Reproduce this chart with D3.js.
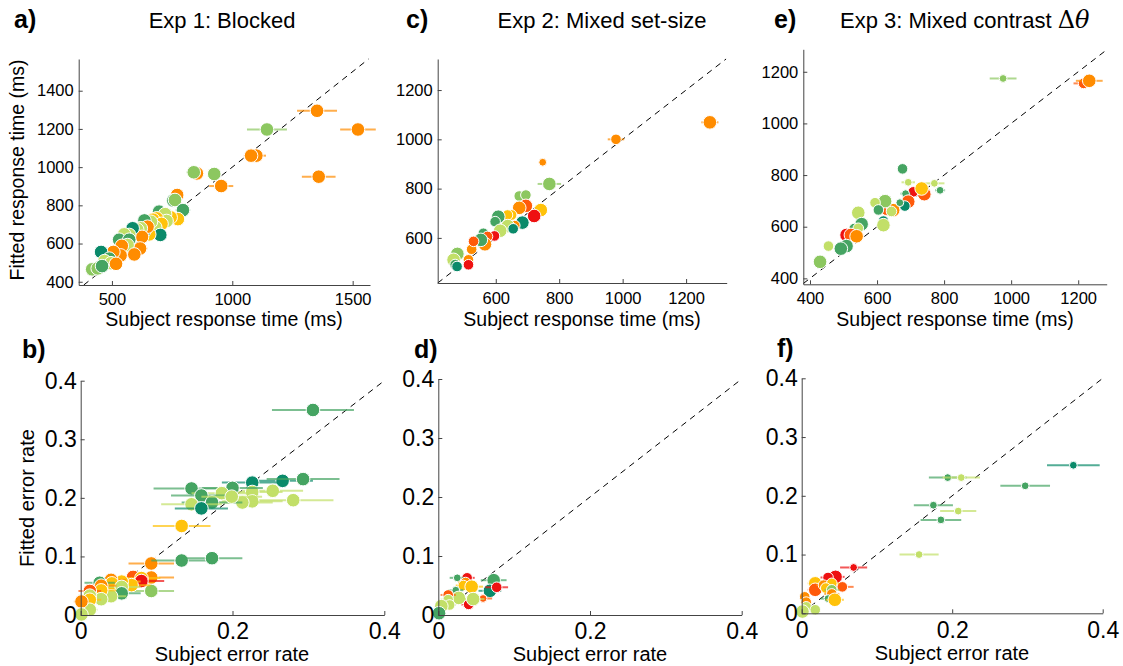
<!DOCTYPE html>
<html>
<head>
<meta charset="utf-8">
<script src="https://cdn.jsdelivr.net/npm/d3@7"></script>
<style>
  body { margin: 0; background: #fff; }
  text { font-family: "Liberation Sans", Arial, sans-serif; fill: #000; }
</style>
</head>
<body>
<div id="fig"></div>
<script>
// each point: [subject, fitted, half error bar, condition (colour), set-size level]
const exp1RT = [
  [1352,1295,83,2,3],[1522,1197,74,2,3],[1359,950,70,2,3],[1144,1197,83,5,3],
  [1100,1060,40,2,3],[1078,1060,30,2,3],[954,901,50,2,3],[853,967,25,2,3],
  [840,973,30,5,3],[925,964,25,5,3],[771,854,20,2,3],[755,825,25,6,3],
  [762,828,20,5,3],[795,775,30,6,3],[696,767,15,6,3],[774,728,25,3,3],
  [744,737,20,3,3],[721,754,15,4,3],[727,718,20,4,3],[686,732,15,3,3],
  [671,725,15,3,3],[706,703,15,3,3],[680,685,15,4,3],[662,714,15,4,3],
  [701,645,15,7,3],[655,648,15,3,3],[635,721,15,6,3],[634,665,15,7,3],
  [648,688,15,2,3],[620,680,15,4,3],[605,673,15,4,3],[625,635,20,2,3],
  [617,574,30,2,3],[586,680,15,7,3],[572,645,15,4,3],[551,648,15,4,3],
  [530,620,15,6,3],[572,620,15,6,3],[565,592,15,4,3],[541,588,15,2,3],
  [593,543,15,2,3],[536,538,15,2,3],[506,556,15,2,3],[455,556,15,7,3],
  [489,521,15,6,3],[469,508,15,4,3],[496,497,15,4,3],[517,494,15,2,3],
  [418,465,15,5,3],[441,470,15,5,3],[459,482,15,6,3]
];
const exp2RT = [
  [1275,1069,27,2,3],[979,1000,26,2,2],[748,907,8,2,1],[769,819,37,5,3],
  [674,770,8,5,2],[695,774,8,5,2],[742,713,20,3,3],[721,689,12,0,3],
  [695,730,12,1,3],[674,722,15,2,3],[650,693,15,3,2],[637,693,10,3,2],
  [684,662,12,7,3],[660,650,10,2,2],[608,686,15,6,3],[598,666,10,6,2],
  [638,648,15,4,3],[614,629,10,4,3],[655,637,10,7,2],[596,608,10,0,2],
  [561,619,10,6,2],[574,606,10,1,2],[566,574,15,2,3],[553,592,12,6,3],
  [524,554,10,2,2],[530,586,10,1,2],[514,511,8,2,2],[514,491,8,0,2],
  [479,535,10,5,3],[467,511,10,4,3],[472,492,10,6,2],[478,484,8,7,2]
];
const exp3RT = [
  [1216,1155,30,1,2],[1233,1165,40,2,3],[976,1174,40,5,1],[676,824,0,6,2],
  [693,772,20,4,1],[771,768,30,4,1],[788,741,15,6,1],[708,735,15,0,2],
  [741,726,15,1,3],[733,748,20,3,3],[685,728,15,6,1],[693,697,15,1,3],
  [683,680,15,7,2],[628,664,15,1,2],[648,664,20,2,3],[668,693,8,6,1],
  [643,659,10,4,2],[624,699,10,5,3],[594,693,8,4,2],[604,665,8,6,2],
  [619,622,8,7,2],[619,606,8,4,3],[544,654,8,4,3],[554,610,8,6,3],
  [532,593,8,6,2],[544,594,8,4,2],[509,568,10,0,3],[522,568,10,1,3],
  [539,563,10,2,3],[509,525,8,6,3],[492,515,8,6,3],[455,525,0,4,2],
  [430,464,0,5,3]
];
const exp1Err = [
  [0.306,0.350,0.054,6,3],[0.266,0.229,0.040,7,3],[0.293,0.232,0.048,6,3],
  [0.226,0.226,0.040,7,3],[0.253,0.212,0.040,4,3],[0.280,0.196,0.053,4,3],
  [0.226,0.210,0.040,4,3],[0.226,0.194,0.040,4,3],[0.213,0.192,0.040,4,3],
  [0.146,0.216,0.050,6,3],[0.200,0.217,0.040,6,3],[0.186,0.208,0.040,4,3],
  [0.159,0.204,0.040,6,3],[0.173,0.192,0.040,6,3],[0.146,0.189,0.040,4,3],
  [0.159,0.182,0.035,7,3],[0.199,0.202,0.040,4,3],[0.133,0.152,0.038,3,3],
  [0.093,0.088,0.030,2,3],[0.133,0.093,0.040,6,3],[0.173,0.097,0.040,6,3],
  [0.093,0.064,0.030,2,3],[0.069,0.065,0.020,1,3],[0.080,0.063,0.025,3,3],
  [0.093,0.041,0.030,5,3],[0.080,0.058,0.030,0,3],[0.067,0.051,0.025,3,3],
  [0.054,0.057,0.025,3,3],[0.040,0.060,0.020,2,3],[0.041,0.054,0.020,3,3],
  [0.054,0.048,0.025,4,3],[0.054,0.037,0.025,6,3],[0.040,0.032,0.020,4,3],
  [0.025,0.055,0.020,6,3],[0.027,0.050,0.020,2,3],[0.027,0.042,0.020,3,3],
  [0.027,0.027,0.020,4,3],[0.012,0.041,0.015,1,3],[0.012,0.033,0.015,4,3],
  [0.012,0.026,0.015,3,3],[0.012,0.009,0.010,4,3],[0.001,0.023,0.010,2,3],
  [0.001,0.001,0.005,4,3]
];
const exp2Err = [
  [0.073,0.059,0.017,6,3],[0.068,0.041,0.015,7,3],[0.077,0.047,0.015,0,2],
  [0.038,0.063,0.010,0,2],[0.025,0.063,0.010,6,1],[0.036,0.055,0.010,2,2],
  [0.033,0.050,0.010,3,2],[0.044,0.048,0.015,3,3],[0.023,0.042,0.010,6,1],
  [0.040,0.018,0.010,0,2],[0.059,0.028,0.012,1,1],[0.027,0.029,0.015,4,3],
  [0.046,0.027,0.015,4,3],[0.013,0.034,0.010,1,2],[0.013,0.026,0.010,4,2],
  [0.015,0.017,0.008,4,2],[0.004,0.015,0.005,4,3],[0.001,0.003,0.003,6,3]
];
const exp3Err = [
  [0.361,0.252,0.035,7,1],[0.297,0.217,0.033,6,1],[0.194,0.231,0.025,6,1],
  [0.212,0.231,0.025,4,1],[0.175,0.184,0.026,6,1],[0.208,0.174,0.024,4,1],
  [0.185,0.159,0.027,6,1],[0.156,0.100,0.026,4,1],[0.069,0.078,0.018,0,1],
  [0.045,0.062,0.012,0,3],[0.035,0.061,0.010,0,2],[0.054,0.045,0.015,1,2],
  [0.018,0.051,0.010,3,3],[0.018,0.040,0.010,1,3],[0.029,0.048,0.010,2,2],
  [0.040,0.051,0.010,3,2],[0.032,0.043,0.008,3,2],[0.040,0.040,0.010,5,2],
  [0.040,0.033,0.010,2,2],[0.035,0.025,0.010,6,1],[0.044,0.023,0.012,3,3],
  [0.004,0.028,0.005,2,2],[0.006,0.019,0.005,2,2],[0.006,0.011,0.005,4,2],
  [0.018,0.006,0.005,4,2],[0.001,0.003,0.003,4,3]
];

const exp1RTTicksX = [500, 1000, 1500];
const exp1RTTicksY = [400, 600, 800, 1000, 1200, 1400];
const exp2RTTicks = [600, 800, 1000, 1200];
const exp3RTTicks = [400, 600, 800, 1000, 1200];
const errTicksX = [0, 0.2, 0.4];
const errTicksY = [0, 0.1, 0.2, 0.3, 0.4];

const conditionColors = ["#ee1111", "#ff5a0a", "#ff8c00", "#ffc20a",
                         "#c2df68", "#8cc760", "#45a462", "#0a8a6a"];
const levelRadius = { 1: 3.9, 2: 5.3, 3: 6.8 };

const svg = d3.select("#fig").append("svg")
  .attr("width", 1123).attr("height", 666);

const errFmt = d => d === 0 ? "0" : d3.format(".1f")(d);

const panels = [
  { pts: exp1RT, box: [78.7, 370, 59, 285], xd: [362, 1572], yd: [383, 1566],
    xt: exp1RTTicksX, yt: exp1RTTicksY, fs: 16.5, fmt: d3.format("d"), pad: 8 },
  { pts: exp2RT, box: [437.7, 726.7, 59, 283], xd: [417, 1328], yd: [417, 1326],
    xt: exp2RTTicks, yt: exp2RTTicks, fs: 16.5, fmt: d3.format("d"), pad: 9 },
  { pts: exp3RT, box: [803.3, 1106.7, 49.3, 284.3], xd: [380, 1285], yd: [377, 1287],
    xt: exp3RTTicks, yt: exp3RTTicks, fs: 16.5, fmt: d3.format("d"), pad: 8 },
  { pts: exp1Err, box: [80.7, 384.3, 380.7, 615], xd: [0, 0.4], yd: [0, 0.4],
    xt: errTicksX, yt: errTicksY, fs: 23, fmt: errFmt, pad: 8 },
  { pts: exp2Err, box: [438.3, 741.7, 379, 615], xd: [0, 0.4], yd: [0, 0.4],
    xt: errTicksX, yt: errTicksY, fs: 23, fmt: errFmt, pad: 8 },
  { pts: exp3Err, box: [801.7, 1102.7, 378.3, 613.3], xd: [0, 0.4], yd: [0, 0.4],
    xt: errTicksX, yt: errTicksY, fs: 23, fmt: errFmt, pad: 8 }
];

panels.forEach(function(p) {
  const [l, r, t, b] = p.box;
  const x = d3.scaleLinear().domain(p.xd).range([l, r]);
  const y = d3.scaleLinear().domain(p.yd).range([b, t]);
  const g = svg.append("g");

  // identity line
  const lo = Math.max(p.xd[0], p.yd[0]), hi = Math.min(p.xd[1], p.yd[1]);
  g.append("line")
    .attr("x1", x(lo)).attr("y1", y(lo)).attr("x2", x(hi)).attr("y2", y(hi))
    .attr("stroke", "#000").attr("stroke-width", 1)
    .attr("stroke-dasharray", "6,5");

  const pt = g.selectAll(".pt").data(p.pts).join("g");
  pt.append("line")
    .attr("x1", d => x(d[0] - d[2])).attr("x2", d => x(d[0] + d[2]))
    .attr("y1", d => y(d[1])).attr("y2", d => y(d[1]))
    .attr("stroke", d => conditionColors[d[3]])
    .attr("stroke-opacity", 0.7).attr("stroke-width", 2);
  pt.append("circle")
    .attr("cx", d => x(d[0])).attr("cy", d => y(d[1]))
    .attr("r", d => levelRadius[d[4]])
    .attr("fill", d => conditionColors[d[3]])
    .attr("stroke", "#fff").attr("stroke-width", 1);

  const xAxis = d3.axisBottom(x).tickValues(p.xt).tickFormat(p.fmt)
    .tickSizeInner(-4).tickSizeOuter(0).tickPadding(p.pad);
  const yAxis = d3.axisLeft(y).tickValues(p.yt).tickFormat(p.fmt)
    .tickSizeInner(-4).tickSizeOuter(0).tickPadding(p.fs > 20 ? 4 : 5);

  const gx = svg.append("g").attr("transform", `translate(0,${b})`).call(xAxis);
  const gy = svg.append("g").attr("transform", `translate(${l},0)`).call(yAxis);
  [gx, gy].forEach(a => {
    a.select(".domain").attr("stroke", "#444");
    a.selectAll(".tick line").attr("stroke", "#444");
    a.selectAll("text").style("font-size", p.fs + "px")
      .style("font-family", '"Liberation Sans", Arial, sans-serif').attr("fill", "#000");
  });
});

// panel letters
const letters = [["a)", 14, 28], ["c)", 406, 28], ["e)", 774, 28],
                 ["b)", 22, 358], ["d)", 414, 358], ["f)", 777, 357]];
svg.selectAll(".letter").data(letters).join("text")
  .attr("x", d => d[1]).attr("y", d => d[2])
  .style("font-size", "25px").style("font-weight", "bold")
  .text(d => d[0]);

// titles
svg.append("text").attr("x", 222).attr("y", 28).attr("text-anchor", "middle")
  .style("font-size", "22px").text("Exp 1: Blocked");
svg.append("text").attr("x", 602).attr("y", 28).attr("text-anchor", "middle")
  .style("font-size", "22px").text("Exp 2: Mixed set-size");
const t3 = svg.append("text").attr("x", 840).attr("y", 28).style("font-size", "22px");
t3.append("tspan").text("Exp 3: Mixed contrast ");
t3.append("tspan").style("font-family", '"DejaVu Serif", serif').style("font-size", "24px").text("Δ");
t3.append("tspan").style("font-family", '"DejaVu Serif", serif').style("font-size", "24px")
  .style("font-style", "italic").text("θ");

// axis titles
[[224, 326, "Subject response time (ms)", 19.5], [582, 326, "Subject response time (ms)", 19.5],
 [955, 326, "Subject response time (ms)", 19.5], [232, 661, "Subject error rate", 20],
 [590, 661, "Subject error rate", 20], [952, 660, "Subject error rate", 20]]
  .forEach(d => svg.append("text").attr("x", d[0]).attr("y", d[1])
    .attr("text-anchor", "middle").style("font-size", d[3] + "px").text(d[2]));

svg.append("text").attr("transform", "translate(24,170) rotate(-90)")
  .attr("text-anchor", "middle").style("font-size", "19.5px").text("Fitted response time (ms)");
svg.append("text").attr("transform", "translate(34,498) rotate(-90)")
  .attr("text-anchor", "middle").style("font-size", "20px").text("Fitted error rate");
</script>
</body>
</html>
